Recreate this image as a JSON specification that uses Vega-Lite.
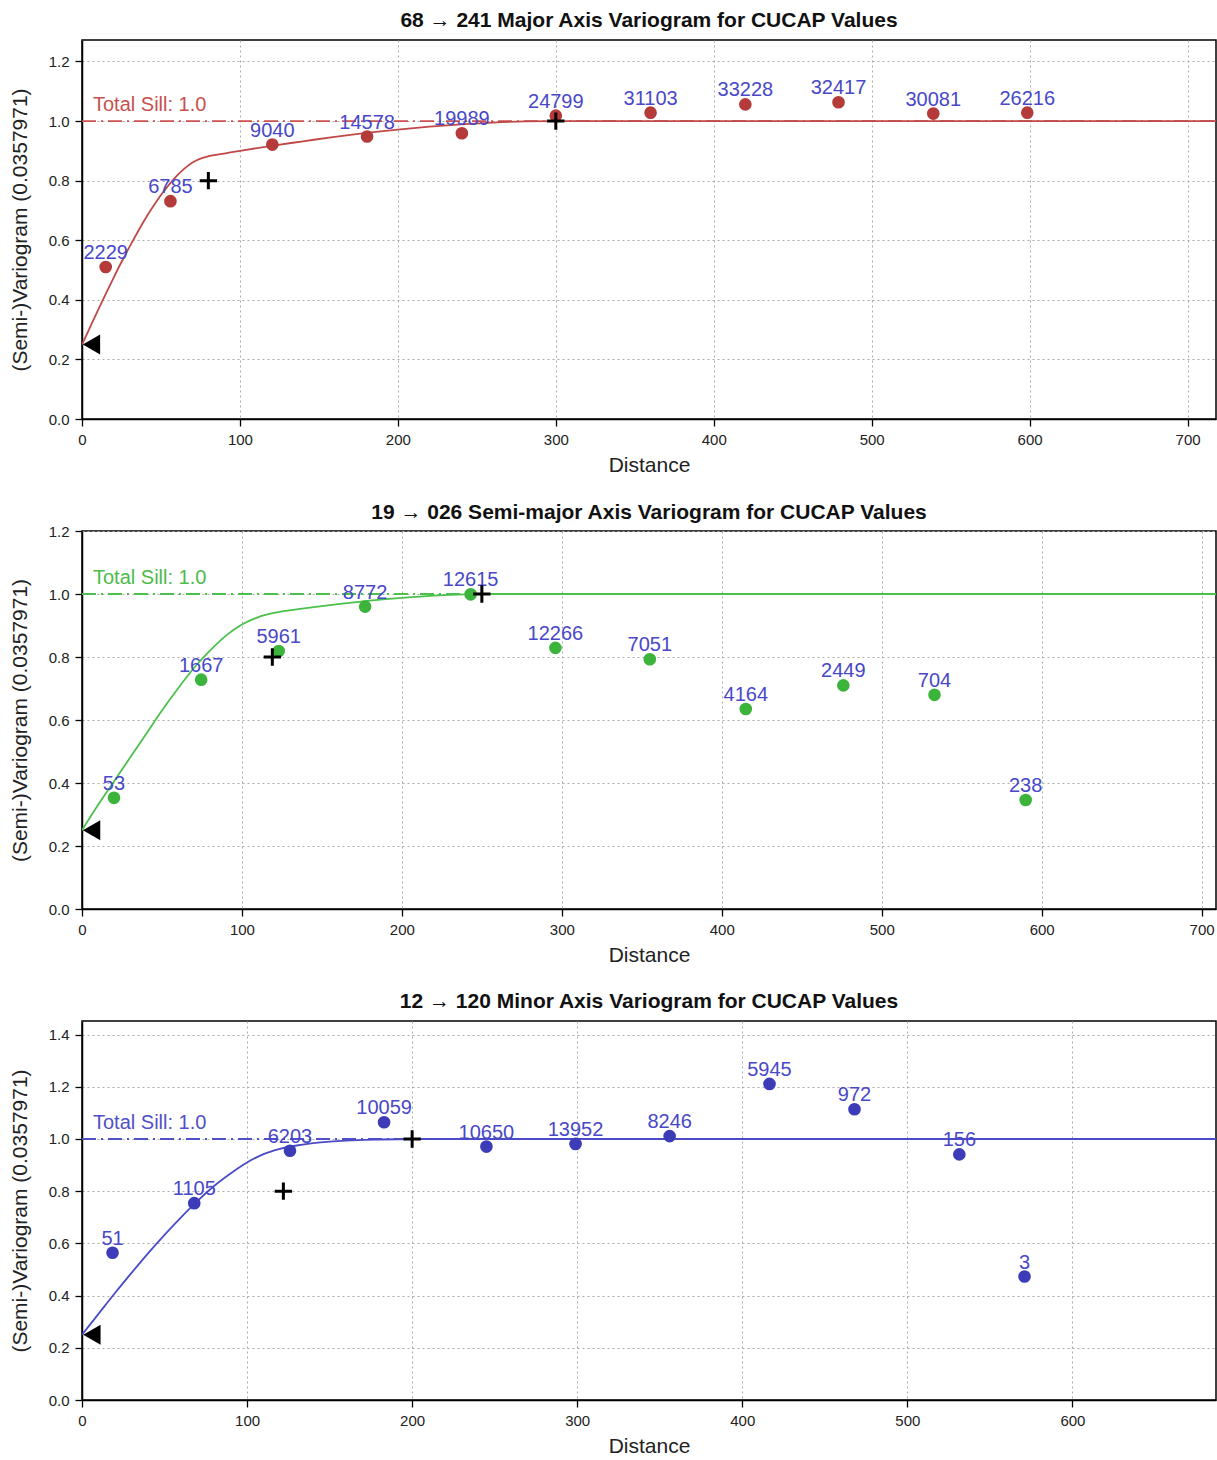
{
  "$schema": "https://vega.github.io/schema/vega-lite/v6.json",
  "padding": {"left": 8, "top": 9, "right": 0, "bottom": 0},
  "spacing": 24,
  "config": {
    "font": "Liberation Sans",
    "view": {"stroke": "#000", "strokeWidth": 1.5},
    "axis": {
      "domainColor": "#000", "domainWidth": 1.5,
      "tickColor": "#000", "tickSize": 7, "tickWidth": 1.3,
      "labelFontSize": 15, "labelColor": "#222", "labelPadding": 6,
      "labelFlush": false, "labelOverlap": false,
      "titleFontSize": 21, "titleFontWeight": "normal", "titleColor": "#222",
      "gridColor": "#aaa", "gridDash": [2, 3], "gridWidth": 1
    },
    "axisX": {"titlePadding": 7},
    "axisY": {"titlePadding": 18},
    "title": {"fontSize": 21, "fontWeight": "bold", "offset": 9, "color": "#111", "anchor": "middle", "frame": "group"}
  },
  "vconcat": [
    {
      "width": 1134, "height": 379,
      "title": "68 → 241 Major Axis Variogram for CUCAP Values",
      "encoding": {
        "x": {"field": "d", "type": "quantitative", "title": "Distance",
              "scale": {"domain": [0, 718], "nice": false, "zero": false},
              "axis": {"values": [0, 100, 200, 300, 400, 500, 600, 700]}},
        "y": {"field": "g", "type": "quantitative", "title": "(Semi-)Variogram (0.0357971)",
              "scale": {"domain": [0, 1.272], "nice": false, "zero": false},
              "axis": {"values": [0, 0.2, 0.4, 0.6, 0.8, 1.0, 1.2], "format": ".1f"}}
      },
      "layer": [
        {"data": {"values": [{"d": 0, "d2": 718, "g": 1}]},
         "mark": {"type": "rule", "color": "#cc5050", "strokeWidth": 1.8, "strokeDash": [14, 5, 2, 5]},
         "encoding": {"x2": {"field": "d2"}}},
        {"data": {"values": [
          {"d": 0, "g": 0.25}, {"d": 5, "g": 0.307}, {"d": 10, "g": 0.364}, {"d": 15, "g": 0.419},
          {"d": 20, "g": 0.474}, {"d": 25, "g": 0.527}, {"d": 30, "g": 0.577}, {"d": 35, "g": 0.625},
          {"d": 40, "g": 0.671}, {"d": 45, "g": 0.713}, {"d": 50, "g": 0.752}, {"d": 55, "g": 0.786},
          {"d": 60, "g": 0.816}, {"d": 65, "g": 0.841}, {"d": 70, "g": 0.861}, {"d": 75, "g": 0.874},
          {"d": 80, "g": 0.882}, {"d": 90, "g": 0.891}, {"d": 100, "g": 0.9}, {"d": 120, "g": 0.917},
          {"d": 140, "g": 0.932}, {"d": 160, "g": 0.947}, {"d": 180, "g": 0.96}, {"d": 200, "g": 0.971},
          {"d": 220, "g": 0.981}, {"d": 240, "g": 0.989}, {"d": 260, "g": 0.995}, {"d": 280, "g": 0.999},
          {"d": 300, "g": 1.0}, {"d": 718, "g": 1.0}]},
         "mark": {"type": "line", "color": "#c04848", "strokeWidth": 1.8, "clip": true, "interpolate": "monotone"}},
        {"data": {"name": "p1"},
         "mark": {"type": "circle", "color": "#b53a3a", "size": 160, "opacity": 1}},
        {"data": {"name": "p1"},
         "mark": {"type": "text", "color": "#4848c8", "fontSize": 20, "align": "center", "baseline": "alphabetic", "dy": -8},
         "encoding": {"text": {"field": "n"}}},
        {"data": {"values": [{"d": 80, "g": 0.8}, {"d": 300, "g": 1.0}]},
         "mark": {"type": "point", "shape": "M-1,0H1M0,-1V1", "filled": false, "stroke": "#000", "strokeWidth": 3, "size": 300, "opacity": 1}},
        {"data": {"values": [{"d": 6, "g": 0.25}]},
         "mark": {"type": "point", "shape": "triangle-left", "filled": true, "color": "#000", "size": 400, "opacity": 1}},
        {"data": {"values": [{"d": 0, "g": 1, "t": "Total Sill: 1.0"}]},
         "mark": {"type": "text", "color": "#c85050", "fontSize": 20, "align": "left", "baseline": "alphabetic", "dx": 11, "dy": -10},
         "encoding": {"text": {"field": "t"}}}
      ]
    },
    {
      "width": 1134, "height": 378,
      "title": {"text": "19 → 026 Semi-major Axis Variogram for CUCAP Values", "offset": 1.5},
      "encoding": {
        "x": {"field": "d", "type": "quantitative", "title": "Distance",
              "scale": {"domain": [0, 709], "nice": false, "zero": false},
              "axis": {"values": [0, 100, 200, 300, 400, 500, 600, 700]}},
        "y": {"field": "g", "type": "quantitative", "title": "(Semi-)Variogram (0.0357971)",
              "scale": {"domain": [0, 1.2], "nice": false, "zero": false},
              "axis": {"values": [0, 0.2, 0.4, 0.6, 0.8, 1.0, 1.2], "format": ".1f"}}
      },
      "layer": [
        {"data": {"values": [{"d": 0, "d2": 709, "g": 1}]},
         "mark": {"type": "rule", "color": "#4cc04c", "strokeWidth": 1.8, "strokeDash": [14, 5, 2, 5]},
         "encoding": {"x2": {"field": "d2"}}},
        {"data": {"values": [
          {"d": 0, "g": 0.25}, {"d": 10, "g": 0.33}, {"d": 20, "g": 0.405}, {"d": 30, "g": 0.48},
          {"d": 40, "g": 0.555}, {"d": 50, "g": 0.63}, {"d": 60, "g": 0.7}, {"d": 70, "g": 0.765},
          {"d": 80, "g": 0.82}, {"d": 90, "g": 0.868}, {"d": 100, "g": 0.903}, {"d": 110, "g": 0.926},
          {"d": 120, "g": 0.94}, {"d": 140, "g": 0.955}, {"d": 160, "g": 0.968}, {"d": 180, "g": 0.979},
          {"d": 200, "g": 0.988}, {"d": 220, "g": 0.995}, {"d": 240, "g": 0.999}, {"d": 250, "g": 1.0},
          {"d": 709, "g": 1.0}]},
         "mark": {"type": "line", "color": "#4cc04c", "strokeWidth": 1.8, "clip": true, "interpolate": "monotone"}},
        {"data": {"name": "p2"},
         "mark": {"type": "circle", "color": "#3cb43c", "size": 160, "opacity": 1}},
        {"data": {"name": "p2"},
         "mark": {"type": "text", "color": "#4848c8", "fontSize": 20, "align": "center", "baseline": "alphabetic", "dy": -8},
         "encoding": {"text": {"field": "n"}}},
        {"data": {"values": [{"d": 119, "g": 0.8}, {"d": 250, "g": 1.0}]},
         "mark": {"type": "point", "shape": "M-1,0H1M0,-1V1", "filled": false, "stroke": "#000", "strokeWidth": 3, "size": 300, "opacity": 1}},
        {"data": {"values": [{"d": 6, "g": 0.25}]},
         "mark": {"type": "point", "shape": "triangle-left", "filled": true, "color": "#000", "size": 400, "opacity": 1}},
        {"data": {"values": [{"d": 0, "g": 1, "t": "Total Sill: 1.0"}]},
         "mark": {"type": "text", "color": "#4cbb4c", "fontSize": 20, "align": "left", "baseline": "alphabetic", "dx": 11, "dy": -10},
         "encoding": {"text": {"field": "t"}}}
      ]
    },
    {
      "width": 1134, "height": 379,
      "title": "12 → 120 Minor Axis Variogram for CUCAP Values",
      "encoding": {
        "x": {"field": "d", "type": "quantitative", "title": "Distance",
              "scale": {"domain": [0, 687], "nice": false, "zero": false},
              "axis": {"values": [0, 100, 200, 300, 400, 500, 600]}},
        "y": {"field": "g", "type": "quantitative", "title": "(Semi-)Variogram (0.0357971)",
              "scale": {"domain": [0, 1.452], "nice": false, "zero": false},
              "axis": {"values": [0, 0.2, 0.4, 0.6, 0.8, 1.0, 1.2, 1.4], "format": ".1f"}}
      },
      "layer": [
        {"data": {"values": [{"d": 0, "d2": 687, "g": 1}]},
         "mark": {"type": "rule", "color": "#5050c8", "strokeWidth": 1.8, "strokeDash": [14, 5, 2, 5]},
         "encoding": {"x2": {"field": "d2"}}},
        {"data": {"values": [
          {"d": 0, "g": 0.25}, {"d": 10, "g": 0.33}, {"d": 20, "g": 0.41}, {"d": 30, "g": 0.487},
          {"d": 40, "g": 0.562}, {"d": 50, "g": 0.633}, {"d": 60, "g": 0.7}, {"d": 70, "g": 0.763},
          {"d": 80, "g": 0.82}, {"d": 90, "g": 0.868}, {"d": 100, "g": 0.91}, {"d": 110, "g": 0.942},
          {"d": 120, "g": 0.962}, {"d": 130, "g": 0.975}, {"d": 140, "g": 0.984}, {"d": 150, "g": 0.99},
          {"d": 160, "g": 0.994}, {"d": 180, "g": 0.998}, {"d": 200, "g": 1.0}, {"d": 687, "g": 1.0}]},
         "mark": {"type": "line", "color": "#4b4bc8", "strokeWidth": 1.8, "clip": true, "interpolate": "monotone"}},
        {"data": {"name": "p3"},
         "mark": {"type": "circle", "color": "#3c3cb8", "size": 160, "opacity": 1}},
        {"data": {"name": "p3"},
         "mark": {"type": "text", "color": "#4848c8", "fontSize": 20, "align": "center", "baseline": "alphabetic", "dy": -8},
         "encoding": {"text": {"field": "n"}}},
        {"data": {"values": [{"d": 122, "g": 0.8}, {"d": 200, "g": 1.0}]},
         "mark": {"type": "point", "shape": "M-1,0H1M0,-1V1", "filled": false, "stroke": "#000", "strokeWidth": 3, "size": 300, "opacity": 1}},
        {"data": {"values": [{"d": 6, "g": 0.25}]},
         "mark": {"type": "point", "shape": "triangle-left", "filled": true, "color": "#000", "size": 400, "opacity": 1}},
        {"data": {"values": [{"d": 0, "g": 1, "t": "Total Sill: 1.0"}]},
         "mark": {"type": "text", "color": "#5050c8", "fontSize": 20, "align": "left", "baseline": "alphabetic", "dx": 11, "dy": -10},
         "encoding": {"text": {"field": "t"}}}
      ]
    }
  ],
  "datasets": {
    "p1": [
      {"d": 15, "g": 0.51, "n": "2229"}, {"d": 56, "g": 0.731, "n": "6785"}, {"d": 120.5, "g": 0.921, "n": "9040"},
      {"d": 180.5, "g": 0.948, "n": "14578"}, {"d": 240.5, "g": 0.959, "n": "19989"}, {"d": 300, "g": 1.018, "n": "24799"},
      {"d": 360, "g": 1.028, "n": "31103"}, {"d": 420, "g": 1.056, "n": "33228"}, {"d": 479, "g": 1.063, "n": "32417"},
      {"d": 539, "g": 1.025, "n": "30081"}, {"d": 598.5, "g": 1.028, "n": "26216"}
    ],
    "p2": [
      {"d": 20, "g": 0.353, "n": "53"}, {"d": 74.5, "g": 0.728, "n": "1667"}, {"d": 123, "g": 0.819, "n": "5961"},
      {"d": 177, "g": 0.96, "n": "8772"}, {"d": 243, "g": 0.999, "n": "12615"}, {"d": 296, "g": 0.829, "n": "12266"},
      {"d": 355, "g": 0.793, "n": "7051"}, {"d": 415, "g": 0.635, "n": "4164"}, {"d": 476, "g": 0.71, "n": "2449"},
      {"d": 533, "g": 0.68, "n": "704"}, {"d": 590, "g": 0.346, "n": "238"}
    ],
    "p3": [
      {"d": 18.5, "g": 0.564, "n": "51"}, {"d": 68, "g": 0.754, "n": "1105"}, {"d": 126, "g": 0.955, "n": "6203"},
      {"d": 183, "g": 1.064, "n": "10059"}, {"d": 245, "g": 0.971, "n": "10650"}, {"d": 299, "g": 0.981, "n": "13952"},
      {"d": 356, "g": 1.011, "n": "8246"}, {"d": 416.5, "g": 1.211, "n": "5945"}, {"d": 468, "g": 1.114, "n": "972"},
      {"d": 531.5, "g": 0.941, "n": "156"}, {"d": 571, "g": 0.473, "n": "3"}
    ]
  }
}
